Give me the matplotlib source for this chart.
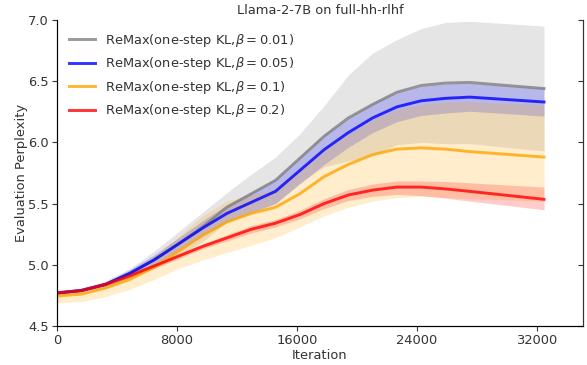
import matplotlib
matplotlib.use("Agg")
import matplotlib.pyplot as plt
import numpy as np

# ---- data ----
iterations = [0, 1620, 3240, 4860, 6480, 8100, 9720, 11340, 12960, 14580,
              16200, 17820, 19440, 21060, 22680, 24300, 25920, 27540, 32500]

labels = [r"ReMax(one-step KL,$\beta = 0.01$)",
          r"ReMax(one-step KL,$\beta = 0.05$)",
          r"ReMax(one-step KL,$\beta = 0.1$)",
          r"ReMax(one-step KL,$\beta = 0.2$)"]

gray_mean = [4.77, 4.79, 4.84, 4.93, 5.04, 5.17, 5.31, 5.47, 5.58, 5.69, 5.87, 6.05, 6.20, 6.31, 6.41, 6.465, 6.485, 6.49, 6.44]
gray_hi = [4.79, 4.81, 4.87, 4.97, 5.11, 5.27, 5.43, 5.59, 5.74, 5.88, 6.07, 6.30, 6.55, 6.73, 6.84, 6.93, 6.98, 6.99, 6.95]
gray_lo = [4.75, 4.77, 4.81, 4.89, 4.97, 5.07, 5.19, 5.35, 5.42, 5.50, 5.67, 5.80, 5.85, 5.89, 5.98, 6.00, 5.99, 5.99, 5.93]

blue_mean = [4.77, 4.79, 4.84, 4.93, 5.04, 5.17, 5.30, 5.42, 5.51, 5.60, 5.77, 5.94, 6.08, 6.20, 6.29, 6.34, 6.36, 6.37, 6.33]
blue_hi = [4.78, 4.80, 4.86, 4.96, 5.08, 5.22, 5.36, 5.49, 5.59, 5.70, 5.88, 6.06, 6.20, 6.32, 6.41, 6.46, 6.48, 6.485, 6.445]
blue_lo = [4.76, 4.78, 4.82, 4.90, 5.00, 5.12, 5.24, 5.35, 5.43, 5.50, 5.66, 5.82, 5.96, 6.08, 6.17, 6.22, 6.24, 6.255, 6.215]

orange_mean = [4.745, 4.76, 4.81, 4.88, 4.98, 5.11, 5.24, 5.35, 5.42, 5.47, 5.58, 5.72, 5.82, 5.90, 5.945, 5.955, 5.945, 5.925, 5.88]
orange_hi = [4.78, 4.80, 4.85, 4.94, 5.07, 5.23, 5.40, 5.52, 5.57, 5.62, 5.78, 5.94, 6.07, 6.19, 6.27, 6.31, 6.33, 6.33, 6.31]
orange_lo = [4.69, 4.70, 4.74, 4.80, 4.88, 4.97, 5.04, 5.10, 5.16, 5.22, 5.31, 5.40, 5.47, 5.52, 5.55, 5.56, 5.55, 5.54, 5.52]

red_mean = [4.77, 4.79, 4.84, 4.91, 4.99, 5.07, 5.15, 5.22, 5.29, 5.34, 5.41, 5.50, 5.57, 5.61, 5.635, 5.635, 5.62, 5.60, 5.535]
red_hi = [4.78, 4.80, 4.85, 4.925, 5.01, 5.09, 5.17, 5.245, 5.32, 5.37, 5.445, 5.54, 5.615, 5.66, 5.685, 5.685, 5.68, 5.67, 5.635]
red_lo = [4.76, 4.78, 4.83, 4.895, 4.97, 5.05, 5.13, 5.195, 5.26, 5.31, 5.375, 5.46, 5.525, 5.56, 5.575, 5.565, 5.545, 5.52, 5.45]

colors = ["gray", "blue", "orange", "red"]

x_ticks = [0, 8000, 16000, 24000, 32000]
y_ticks = [4.5, 5.0, 5.5, 6.0, 6.5, 7.0]

# ---- plot ----
plt.rcParams["font.family"] = ["DejaVu Sans"]
plt.rcParams["text.color"] = "#333333"
plt.rcParams["axes.labelcolor"] = "#333333"
plt.rcParams["xtick.color"] = "#333333"
plt.rcParams["ytick.color"] = "#333333"

FS = 9.4

fig = plt.figure(figsize=(5.87, 3.65), dpi=100)
ax = fig.add_axes([57 / 587, 1 - 326 / 365, 526 / 587, 306 / 365])

series = [(gray_mean, gray_lo, gray_hi),
          (blue_mean, blue_lo, blue_hi),
          (orange_mean, orange_lo, orange_hi),
          (red_mean, red_lo, red_hi)]

for (m, lo, hi), c, lab in zip(series, colors, labels):
    ax.fill_between(iterations, lo, hi, color=c, alpha=0.2, linewidth=0)
for (m, lo, hi), c, lab in zip(series, colors, labels):
    ax.plot(iterations, m, color=c, alpha=0.8, linewidth=2.1, label=lab)

ax.set_xlim(0, 35100)
ax.set_ylim(4.5, 7.0)
ax.set_xticks(x_ticks)
ax.set_yticks(y_ticks)
ax.set_yticklabels([f"{v:.1f}" for v in y_ticks])
ax.tick_params(labelsize=FS, direction="out", length=3.5, pad=2.5)
for s in ["left", "bottom", "right"]:
    ax.spines[s].set_color("#333333")
ax.spines["top"].set_visible(False)

ax2 = ax.twinx()
ax2.set_ylim(4.5, 7.0)
ax2.set_yticks(y_ticks)
ax2.tick_params(direction="in", labelright=False, length=3.5)
ax2.spines["top"].set_visible(False)
ax2.spines["right"].set_color("#333333")

ax.set_xlabel("Iteration", fontsize=FS, labelpad=1)
ax.set_ylabel("Evaluation Perplexity", fontsize=FS, labelpad=0)
ax.set_title("Llama-2-7B on full-hh-rlhf", fontsize=FS, pad=4)

ax.legend(loc="upper left", frameon=False, fontsize=FS)

fig.savefig("out.png", dpi=100)
